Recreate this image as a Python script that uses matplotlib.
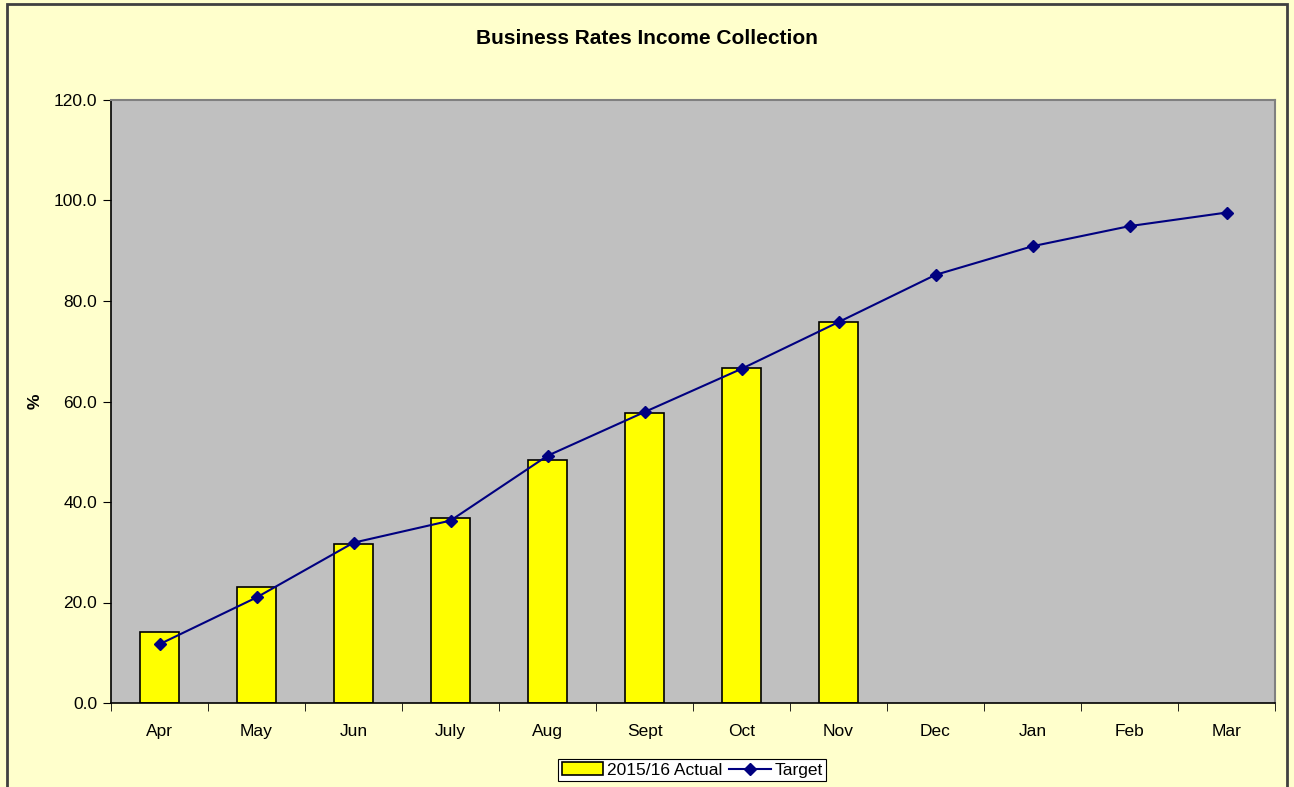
import numpy as np
import matplotlib.pyplot as plt
from matplotlib.patches import Rectangle

months = ["Apr", "May", "Jun", "July", "Aug", "Sept", "Oct", "Nov",
          "Dec", "Jan", "Feb", "Mar"]
actual = [14.1, 23.0, 31.7, 36.9, 48.4, 57.7, 66.7, 75.8]
target = [11.7, 21.0, 31.9, 36.3, 49.2, 57.9, 66.5, 75.8,
          85.2, 90.9, 94.9, 97.6]

plt.rcParams['font.family'] = ['Liberation Sans', 'DejaVu Sans']

fig = plt.figure(figsize=(12.94, 7.87), dpi=100, facecolor='#FFFFCC')
# outer chart border
fig.patches.append(Rectangle((7/1294, -0.01), 1280/1294, 1 - 4/787 + 0.01,
                             transform=fig.transFigure, fill=False,
                             edgecolor='#404040', linewidth=2))

ax = fig.add_axes([111/1294, 84/787, 1164/1294, 603/787])
ax.set_facecolor('#C0C0C0')

x = np.arange(len(months))
bars = ax.bar(x[:len(actual)], actual, width=0.4, color='#FFFF00',
              edgecolor='black', linewidth=1.2, label='2015/16 Actual',
              zorder=2)
line, = ax.plot(x, target, color='#000080', linewidth=1.5, marker='D',
                markersize=6, label='Target', zorder=3)

ax.set_xlim(-0.5, len(months) - 0.5)
ax.set_ylim(0, 120)
ax.set_yticks(np.arange(0, 121, 20))
ax.set_yticklabels([f"{v:.1f}" for v in np.arange(0, 121, 20)])
ax.set_xticks(x)
ax.set_xticklabels(months)
ax.set_xticks(np.arange(-0.5, len(months), 1), minor=True)
ax.tick_params(axis='x', which='major', length=0, pad=15, labelsize=12.5)
ax.tick_params(axis='x', which='minor', length=6, direction='out')
ax.tick_params(axis='y', length=6, direction='out', labelsize=12.5, pad=4)

for s in ['left', 'bottom']:
    ax.spines[s].set_color('black')
    ax.spines[s].set_linewidth(1.2)
for s in ['top', 'right']:
    ax.spines[s].set_color('#808080')
    ax.spines[s].set_linewidth(1.5)

fig.text(35/1294, 1 - 401/787, '%', rotation=90, ha='center', va='center',
         fontsize=12.5, fontweight='bold')
fig.text(0.5, 1 - 38/787, 'Business Rates Income Collection',
         ha='center', va='center', fontsize=15, fontweight='bold')

leg = fig.legend([bars, line], ['2015/16 Actual', 'Target'], loc='center',
                 bbox_to_anchor=(692/1294, 1 - 770/787),
                 ncol=2, fontsize=12.5, frameon=True, fancybox=False,
                 edgecolor='black', framealpha=1, borderpad=0.2,
                 handlelength=2.4, handletextpad=0.2, columnspacing=0.4,
                 borderaxespad=0)
leg.get_frame().set_linewidth(0.8)

fig.savefig('out.png', dpi=100, facecolor=fig.get_facecolor())
